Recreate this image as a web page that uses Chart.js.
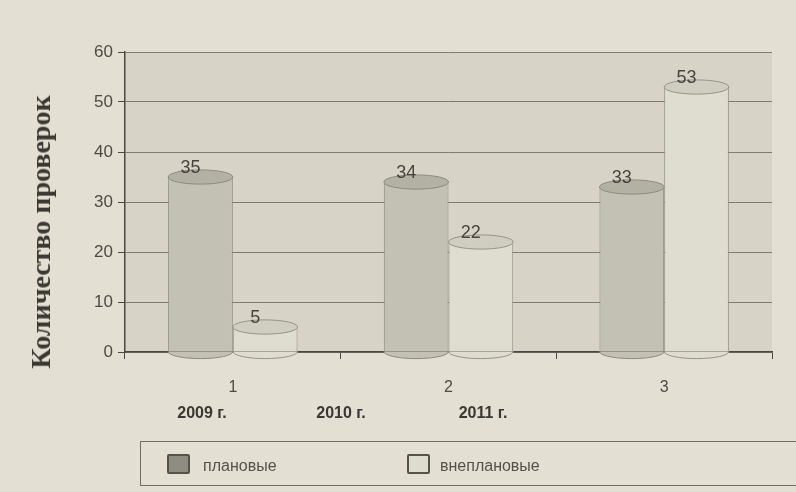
<!DOCTYPE html>
<html>
<head>
<meta charset="utf-8">
<script src="https://cdn.jsdelivr.net/npm/chart.js@4.4.1/dist/chart.umd.min.js"></script>
<style>
  html, body { margin: 0; padding: 0; background: #e3dfd2; }
  #wrap { position: relative; width: 796px; height: 492px; overflow: hidden; }
  #c { position: absolute; left: 0; top: 0; }
  .ytitle {
    position: absolute; left: 41px; top: 232px;
    transform: translate(-50%, -50%) rotate(-90deg);
    font: bold 28px "Liberation Serif", "DejaVu Serif", serif; color: #3a3833;
    white-space: nowrap;
  }
  .year { position: absolute; top: 404px; font: bold 16px "Liberation Sans", Arial, sans-serif; color: #3a3833; transform: translateX(-50%); }
  .legend {
    position: absolute; left: 140px; top: 441px; width: 680px; height: 45px;
    border: 1px solid #6f6c63; box-sizing: border-box;
    font: 16px "Liberation Sans", Arial, sans-serif; color: #55524a;
  }
  .legend .sw { position: absolute; top: 12px; width: 19px; height: 16px; border: 2px solid #55524a; border-radius: 2px; }
  .legend .lb { position: absolute; top: 15px; }
</style>
</head>
<body>
<div id="wrap">
  <canvas id="c" width="796" height="492"></canvas>
  <div class="ytitle">Количество проверок</div>
  <div class="year" style="left:202px">2009 г.</div>
  <div class="year" style="left:341px">2010 г.</div>
  <div class="year" style="left:483px">2011 г.</div>
  <div class="legend">
    <span class="sw" style="left:26px;background:#8f8c82"></span>
    <span class="lb" style="left:62px">плановые</span>
    <span class="sw" style="left:266px;background:#dedbcf"></span>
    <span class="lb" style="left:299px">внеплановые</span>
  </div>
</div>
<script>
// данные с картинки
const categories = ['1', '2', '3'];
const planned = [35, 34, 33];     // плановые
const unplanned = [5, 22, 53];    // внеплановые
const yMin = 0, yMax = 60, yStep = 10;

// стенка графика
const wallPlugin = {
    id: 'wall',
    beforeDraw(chart) {
        const a = chart.chartArea;
        const ctx = chart.ctx;
        ctx.save();
        ctx.fillStyle = '#d7d4c7';
        ctx.fillRect(a.left, a.top, a.right - a.left, a.bottom - a.top);
        ctx.restore();
    }
};

// верх/низ цилиндров + подписи
const cylinderPlugin = {
    id: 'cylinder',
    afterDatasetsDraw(chart) {
        const ctx = chart.ctx;
        chart.data.datasets.forEach((ds, i) => {
            const meta = chart.getDatasetMeta(i);
            meta.data.forEach((bar, j) => {
                const rx = bar.width / 2;
                const ry = bar.width * 0.11;
                ctx.save();
                ctx.lineWidth = 1;
                ctx.strokeStyle = ds.borderColor;
                // низ
                ctx.beginPath();
                ctx.ellipse(bar.x, bar.base, rx, ry, 0, 0, Math.PI);
                ctx.fillStyle = ds.backgroundColor;
                ctx.fill();
                ctx.stroke();
                // верх
                ctx.beginPath();
                ctx.ellipse(bar.x, bar.y, rx, ry, 0, 0, Math.PI * 2);
                ctx.fillStyle = ds.topColor;
                ctx.fill();
                ctx.stroke();
                // подпись
                ctx.fillStyle = '#46443d';
                ctx.font = '18px "Liberation Sans", Arial, sans-serif';
                ctx.textAlign = 'center';
                ctx.textBaseline = 'alphabetic';
                ctx.fillText(ds.data[j], bar.x - 10, bar.y - ry + 3);
                ctx.restore();
            });
        });
    }
};

new Chart(document.getElementById('c'), {
    type: 'bar',
    data: {
        labels: categories,
        datasets: [{
            label: 'плановые',
            data: planned,
            backgroundColor: '#c3c0b4',
            topColor: '#b3b0a4',
            borderColor: '#8d8a7f',
            borderWidth: 1
        }, {
            label: 'внеплановые',
            data: unplanned,
            backgroundColor: '#dfdcd0',
            topColor: '#d0cdc1',
            borderColor: '#96938a',
            borderWidth: 1
        }]
    },
    options: {
        responsive: false,
        animation: false,
        categoryPercentage: 0.6,
        barPercentage: 1,
        layout: { padding: { top: 52, right: 24, bottom: 95, left: 0 } },
        plugins: {
            legend: { display: false },
            tooltip: { enabled: false }
        },
        scales: {
            y: {
                min: yMin,
                max: yMax,
                afterFit(scale) { scale.width = 125; },
                ticks: {
                    stepSize: yStep,
                    padding: 5,
                    color: '#4d4b44',
                    font: { size: 17, family: '"Liberation Sans", Arial, sans-serif' }
                },
                grid: { color: '#7e7b71', tickColor: '#4a4840', tickLength: 7, lineWidth: 1 },
                border: { color: '#4a4840', width: 1.5 }
            },
            x: {
                afterFit(scale) { scale.height = 45; },
                ticks: {
                    padding: 19,
                    color: '#4d4b44',
                    font: { size: 16, family: '"Liberation Sans", Arial, sans-serif' }
                },
                grid: { drawOnChartArea: false, tickColor: '#4a4840', tickLength: 7 },
                border: { color: '#4a4840', width: 1.5 }
            }
        }
    },
    plugins: [wallPlugin, cylinderPlugin]
});
</script>
</body>
</html>
